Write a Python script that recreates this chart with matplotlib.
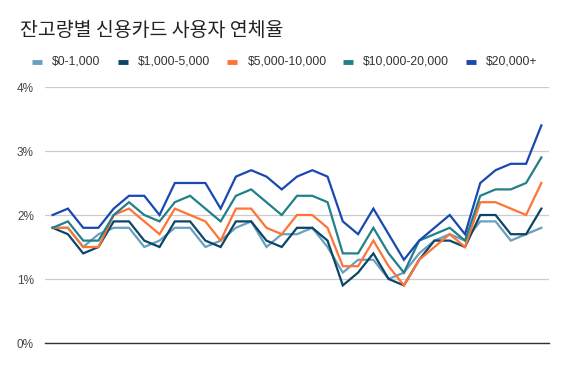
import matplotlib
matplotlib.use("Agg")
import matplotlib.pyplot as plt
from matplotlib.lines import Line2D

title = "잔고량별 신용카드 사용자 연체율"
series_names = ["$0-1,000", "$1,000-5,000", "$5,000-10,000", "$10,000-20,000", "$20,000+"]

s_0_1000 = [1.8, 1.8, 1.5, 1.7, 1.8, 1.8, 1.5, 1.6, 1.8, 1.8, 1.5, 1.6, 1.8, 1.9, 1.5, 1.7, 1.7,
            1.8, 1.5, 1.1, 1.3, 1.3, 1.0, 1.1, 1.4, 1.6, 1.7, 1.6, 1.9, 1.9, 1.6, 1.7, 1.8]
s_1000_5000 = [1.8, 1.7, 1.4, 1.5, 1.9, 1.9, 1.6, 1.5, 1.9, 1.9, 1.6, 1.5, 1.9, 1.9, 1.6, 1.5, 1.8,
               1.8, 1.6, 0.9, 1.1, 1.4, 1.0, 0.9, 1.3, 1.6, 1.6, 1.5, 2.0, 2.0, 1.7, 1.7, 2.1]
s_5000_10000 = [1.8, 1.8, 1.5, 1.5, 2.0, 2.1, 1.9, 1.7, 2.1, 2.0, 1.9, 1.6, 2.1, 2.1, 1.8, 1.7, 2.0,
                2.0, 1.8, 1.2, 1.2, 1.6, 1.2, 0.9, 1.3, 1.5, 1.7, 1.5, 2.2, 2.2, 2.1, 2.0, 2.5]
s_10000_20000 = [1.8, 1.9, 1.6, 1.6, 2.0, 2.2, 2.0, 1.9, 2.2, 2.3, 2.1, 1.9, 2.3, 2.4, 2.2, 2.0, 2.3,
                 2.3, 2.2, 1.4, 1.4, 1.8, 1.4, 1.1, 1.6, 1.7, 1.8, 1.6, 2.3, 2.4, 2.4, 2.5, 2.9]
s_20000_plus = [2.0, 2.1, 1.8, 1.8, 2.1, 2.3, 2.3, 2.0, 2.5, 2.5, 2.5, 2.1, 2.6, 2.7, 2.6, 2.4, 2.6,
                2.7, 2.6, 1.9, 1.7, 2.1, 1.7, 1.3, 1.6, 1.8, 2.0, 1.7, 2.5, 2.7, 2.8, 2.8, 3.4]
y_ticks = [0, 1, 2, 3, 4]
y_tick_labels = ["0%", "1%", "2%", "3%", "4%"]

all_series = [s_0_1000, s_1000_5000, s_5000_10000, s_10000_20000, s_20000_plus]
colors = ["#6a9fbf", "#0c4566", "#ff7436", "#21808a", "#1a48b2"]

fig = plt.figure(figsize=(5.69, 3.71), dpi=100)
ax = fig.add_axes([45 / 569, 28 / 371, 504 / 569, 256 / 371])

x = list(range(len(s_0_1000)))
for vals, c, name in zip(all_series, colors, series_names):
    ax.plot(x, vals, color=c, lw=1.6, solid_joinstyle="miter", label=name)

ax.set_xlim(-0.5, len(x) - 0.5)
ax.set_ylim(0, 4)
ax.set_yticks(y_ticks)
ax.set_yticklabels(y_tick_labels, fontsize=8.5, color="#444444", family=["Liberation Sans", "DejaVu Sans"])
ax.set_xticks([])
ax.tick_params(axis="y", length=0, pad=8)
ax.grid(axis="y", color="#cccccc", lw=0.9)
ax.set_axisbelow(True)
for sp in ["top", "right", "left"]:
    ax.spines[sp].set_visible(False)
ax.spines["bottom"].set_color("#333333")
ax.spines["bottom"].set_linewidth(1.0)

fig.text(20 / 569, 1 - 31 / 371, title, fontsize=14, color="#222222", fontweight="light",
         family=["Noto Sans CJK KR", "DejaVu Sans"], va="center", ha="left")

# legend
leg_marker_x = [31.7, 117.7, 227.0, 342.7, 465.7]
leg_y = 1 - 62 / 371
for mx, c, name in zip(leg_marker_x, colors, series_names):
    fig.add_artist(Line2D([mx / 569, (mx + 10) / 569], [leg_y, leg_y], color=c, lw=3.5,
                          transform=fig.transFigure, solid_capstyle="butt"))
    fig.text((mx + 20.5) / 569, leg_y, name, fontsize=8.7, color="#333333",
             family=["Liberation Sans", "DejaVu Sans"], va="center", ha="left")

fig.savefig("out.png", dpi=100, facecolor="white")
